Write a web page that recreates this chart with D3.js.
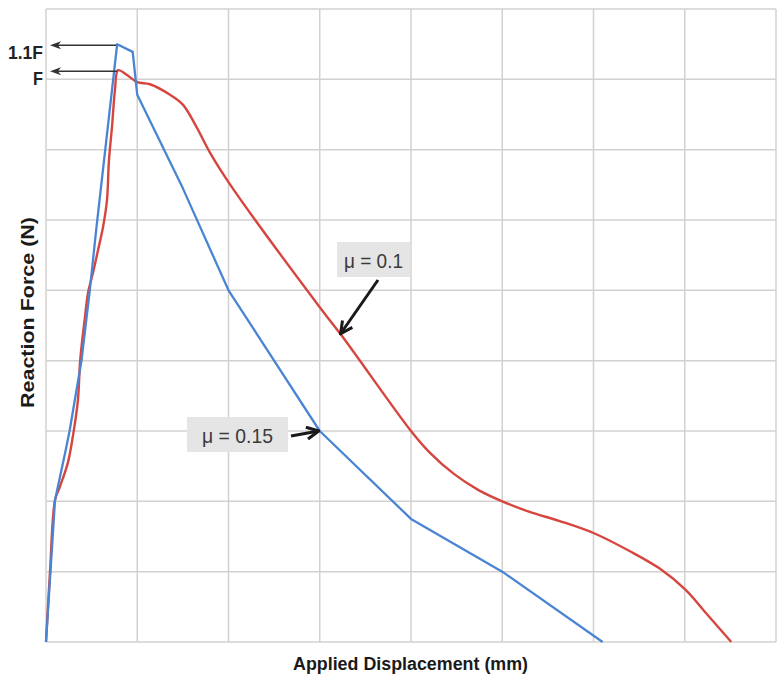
<!DOCTYPE html>
<html><head><meta charset="utf-8">
<script src="https://cdn.jsdelivr.net/npm/d3@7"></script>
<style>
html,body{margin:0;padding:0;background:#fff;}
svg{display:block;}
</style></head>
<body><svg id="c" width="780" height="678"></svg>
<script>
// Grid ticks (grid units, no numeric labels shown)
const xTicks = [0,1,2,3,4,5,6,7,8];
const yTicks = [0,1,2,3,4,5,6,7,8,9];

// mu = 0.15 (blue)
const blueX = [0, 0.099, 0.21, 0.26, 0.39, 0.48, 0.55, 0.78, 0.95, 1.0, 1.5, 2.0, 3.0, 4.0, 5.0, 6.1];
const blueY = [0, 2.02, 2.69, 3.01, 4.01, 5.0, 5.86, 8.5, 8.39, 7.78, 6.45, 5.0, 3.0, 1.75, 1.0, 0];

// mu = 0.1 (red)
const redX = [0, 0.044, 0.099, 0.15, 0.24, 0.30, 0.35, 0.375, 0.427, 0.46, 0.515, 0.57, 0.625, 0.668, 0.69, 0.723, 0.756, 0.79, 0.88, 1.0, 1.14, 1.36, 1.50, 1.65, 1.80, 2.02, 3.0, 3.25, 4.0, 4.2, 4.47, 4.74, 5.0, 5.3, 5.63, 6.0, 6.4, 6.73, 7.01, 7.22, 7.51];
const redY = [0, 1.0, 2.02, 2.20, 2.55, 2.97, 3.44, 4.01, 4.62, 4.96, 5.25, 5.57, 5.90, 6.28, 6.85, 7.32, 7.85, 8.13, 8.07, 7.96, 7.93, 7.78, 7.64, 7.32, 6.95, 6.50, 4.76, 4.34, 3.0, 2.7, 2.39, 2.16, 2.0, 1.85, 1.72, 1.55, 1.29, 1.04, 0.74, 0.43, 0];

const peakLabels = ["1.1F", "F"];
const seriesLabels = ["μ = 0.15", "μ = 0.1"];
const axisTitles = ["Applied Displacement (mm)", "Reaction Force (N)"];

const svg = d3.select("#c");
const W = 780, H = 678;
const m = {left:46, right:4, top:9, bottom:36};
const x = d3.scaleLinear().domain([0,8]).range([m.left, W - m.right]);
const y = d3.scaleLinear().domain([0,9]).range([H - m.bottom, m.top]);

const defs = svg.append("defs");
defs.append("marker").attr("id", "arrBlack")
  .attr("viewBox","0 0 10 10").attr("refX",9).attr("refY",5)
  .attr("markerWidth",15).attr("markerHeight",15).attr("orient","auto")
  .attr("markerUnits","userSpaceOnUse")
  .append("path").attr("d","M1,1 L9,5 L1,9").attr("fill","none")
  .attr("stroke","#1a1a1a").attr("stroke-width",2).attr("stroke-linejoin","miter");

// grid
const grid = svg.append("g");
grid.selectAll("line.v").data(xTicks).join("line")
  .attr("x1", d=>x(d)).attr("x2", d=>x(d))
  .attr("y1", y(9)).attr("y2", y(0))
  .attr("stroke","#d4d0d0").attr("stroke-width",1.5);
grid.selectAll("line.h").data(yTicks).join("line")
  .attr("y1", d=>y(d)).attr("y2", d=>y(d))
  .attr("x1", x(0)).attr("x2", x(8))
  .attr("stroke","#d4d0d0").attr("stroke-width",1.5);

// series
const blue = blueX.map((v,i)=>[v, blueY[i]]);
const red = redX.map((v,i)=>[v, redY[i]]);
const lineLin = d3.line().x(d=>x(d[0])).y(d=>y(d[1]));
const lineSmooth = d3.line().x(d=>x(d[0])).y(d=>y(d[1])).curve(d3.curveCatmullRom.alpha(0.5));

svg.append("path").datum(red).attr("d", lineSmooth)
  .attr("fill","none").attr("stroke","#d6463f").attr("stroke-width",2.4);
svg.append("path").datum(blue).attr("d", lineLin)
  .attr("fill","none").attr("stroke","#4a85d3").attr("stroke-width",2.3).attr("stroke-linejoin","round");

// peak annotations
const bluePeak = blue.reduce((a,b)=> b[1]>a[1]?b:a);
const redPeak = red.reduce((a,b)=> b[1]>a[1]?b:a);
[[bluePeak, peakLabels[0], 35], [redPeak, peakLabels[1], 10]].forEach(([p, lab, tw])=>{
  const py = y(p[1]) + 1;
  const x0 = 50;
  svg.append("line").attr("x1", x0 + 6).attr("y1", py).attr("x2", x(p[0]) - 1).attr("y2", py)
    .attr("stroke","#333").attr("stroke-width",1.5);
  svg.append("path").attr("d", `M${x0},${py} L${x0+11},${py-4} L${x0+8},${py} L${x0+11},${py+4} Z`)
    .attr("fill","#333");
  svg.append("text").attr("x", 43).attr("y", py + 14).attr("text-anchor","end")
    .attr("font-family","Liberation Sans, Arial, sans-serif").attr("font-weight","bold")
    .attr("font-size",19).attr("textLength", tw).attr("lengthAdjust","spacingAndGlyphs")
    .attr("fill","#222").text(lab);
});

// series labels
function label(txt, bx, by, bw, bh, tw){
  svg.append("rect").attr("x",bx).attr("y",by).attr("width",bw).attr("height",bh).attr("fill","#e5e5e5");
  svg.append("text").attr("x", bx + (bw - tw)/2).attr("y", by + 26)
    .attr("font-family","Liberation Sans, Arial, sans-serif")
    .attr("font-size",21).attr("textLength", tw).attr("lengthAdjust","spacingAndGlyphs")
    .attr("fill","#3a3a3a").text(txt);
}
label(seriesLabels[0], 187, 417, 101, 35, 71);
label(seriesLabels[1], 337, 242, 73, 35, 59);

// arrows to curves
svg.append("line").attr("x1",291).attr("y1",436).attr("x2",x(3.0)-1).attr("y2",y(3.0))
  .attr("stroke","#1a1a1a").attr("stroke-width",3).attr("marker-end","url(#arrBlack)");
svg.append("line").attr("x1",378).attr("y1",280).attr("x2",x(3.25)-2).attr("y2",y(4.34)-3)
  .attr("stroke","#1a1a1a").attr("stroke-width",3).attr("marker-end","url(#arrBlack)");

// axis titles
svg.append("text").attr("x", 293).attr("y", 670)
  .attr("font-family","Liberation Sans, Arial, sans-serif").attr("font-weight","bold")
  .attr("font-size",18).attr("textLength",235).attr("lengthAdjust","spacingAndGlyphs")
  .attr("fill","#1a1a1a").text(axisTitles[0]);
svg.append("text").attr("transform","translate(34,408) rotate(-90)")
  .attr("font-family","Liberation Sans, Arial, sans-serif").attr("font-weight","bold")
  .attr("font-size",18).attr("textLength",191).attr("lengthAdjust","spacingAndGlyphs")
  .attr("fill","#1a1a1a").text(axisTitles[1]);
</script></body></html>
